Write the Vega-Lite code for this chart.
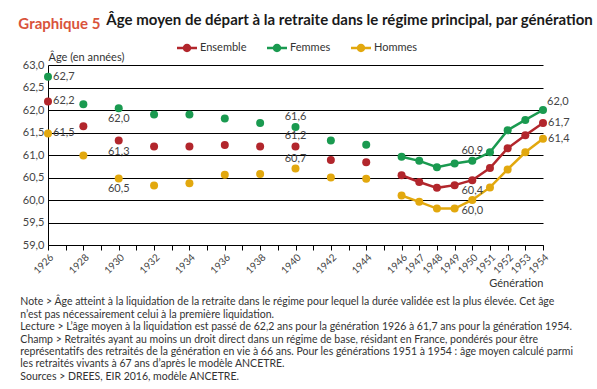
{
  "$schema": "https://vega.github.io/schema/vega-lite/v6.json",
  "padding": {"left": 18, "top": 13, "right": 5, "bottom": 0},
  "background": "white",
  "config": {
    "locale": {"number": {"decimal": ",", "thousands": " ", "grouping": [3], "currency": ["", " €"]}},
    "font": "Lato",
    "view": {"stroke": null},
    "title": {"lineHeight": 12.4},
    "axis": {"labelFont": "Lato", "titleFont": "Lato", "labelColor": "#444444", "titleColor": "#333333"}
  },
  "title": {
    "text": "Graphique 5",
    "anchor": "start",
    "color": "#d9533b",
    "fontSize": 15,
    "fontWeight": "bold",
    "font": "Lato",
    "offset": 0,
    "dx": -2,
    "dy": 19
  },
  "datasets": {
    "ages": [
      {"gen": 1926, "serie": "Femmes", "age": 62.74},
      {"gen": 1928, "serie": "Femmes", "age": 62.13},
      {"gen": 1930, "serie": "Femmes", "age": 62.04},
      {"gen": 1932, "serie": "Femmes", "age": 61.90},
      {"gen": 1934, "serie": "Femmes", "age": 61.90},
      {"gen": 1936, "serie": "Femmes", "age": 61.81},
      {"gen": 1938, "serie": "Femmes", "age": 61.71},
      {"gen": 1940, "serie": "Femmes", "age": 61.62},
      {"gen": 1942, "serie": "Femmes", "age": 61.32},
      {"gen": 1944, "serie": "Femmes", "age": 61.23},
      {"gen": 1946, "serie": "Femmes", "age": 60.96},
      {"gen": 1947, "serie": "Femmes", "age": 60.87},
      {"gen": 1948, "serie": "Femmes", "age": 60.73},
      {"gen": 1949, "serie": "Femmes", "age": 60.81},
      {"gen": 1950, "serie": "Femmes", "age": 60.87},
      {"gen": 1951, "serie": "Femmes", "age": 61.06},
      {"gen": 1952, "serie": "Femmes", "age": 61.55},
      {"gen": 1953, "serie": "Femmes", "age": 61.78},
      {"gen": 1954, "serie": "Femmes", "age": 62.0},
      {"gen": 1926, "serie": "Ensemble", "age": 62.19},
      {"gen": 1928, "serie": "Ensemble", "age": 61.64},
      {"gen": 1930, "serie": "Ensemble", "age": 61.32},
      {"gen": 1932, "serie": "Ensemble", "age": 61.19},
      {"gen": 1934, "serie": "Ensemble", "age": 61.19},
      {"gen": 1936, "serie": "Ensemble", "age": 61.22},
      {"gen": 1938, "serie": "Ensemble", "age": 61.19},
      {"gen": 1940, "serie": "Ensemble", "age": 61.19},
      {"gen": 1942, "serie": "Ensemble", "age": 60.89},
      {"gen": 1944, "serie": "Ensemble", "age": 60.84},
      {"gen": 1946, "serie": "Ensemble", "age": 60.55},
      {"gen": 1947, "serie": "Ensemble", "age": 60.40},
      {"gen": 1948, "serie": "Ensemble", "age": 60.27},
      {"gen": 1949, "serie": "Ensemble", "age": 60.33},
      {"gen": 1950, "serie": "Ensemble", "age": 60.44},
      {"gen": 1951, "serie": "Ensemble", "age": 60.71},
      {"gen": 1952, "serie": "Ensemble", "age": 61.15},
      {"gen": 1953, "serie": "Ensemble", "age": 61.44},
      {"gen": 1954, "serie": "Ensemble", "age": 61.71},
      {"gen": 1926, "serie": "Hommes", "age": 61.48},
      {"gen": 1928, "serie": "Hommes", "age": 60.99},
      {"gen": 1930, "serie": "Hommes", "age": 60.48},
      {"gen": 1932, "serie": "Hommes", "age": 60.32},
      {"gen": 1934, "serie": "Hommes", "age": 60.37},
      {"gen": 1936, "serie": "Hommes", "age": 60.56},
      {"gen": 1938, "serie": "Hommes", "age": 60.58},
      {"gen": 1940, "serie": "Hommes", "age": 60.70},
      {"gen": 1942, "serie": "Hommes", "age": 60.50},
      {"gen": 1944, "serie": "Hommes", "age": 60.47},
      {"gen": 1946, "serie": "Hommes", "age": 60.10},
      {"gen": 1947, "serie": "Hommes", "age": 59.96},
      {"gen": 1948, "serie": "Hommes", "age": 59.81},
      {"gen": 1949, "serie": "Hommes", "age": 59.81},
      {"gen": 1950, "serie": "Hommes", "age": 60.00},
      {"gen": 1951, "serie": "Hommes", "age": 60.28},
      {"gen": 1952, "serie": "Hommes", "age": 60.68},
      {"gen": 1953, "serie": "Hommes", "age": 61.06},
      {"gen": 1954, "serie": "Hommes", "age": 61.36}
    ]
  },
  "vconcat": [
    {
      "title": {
        "text": "Âge moyen de départ à la retraite dans le régime principal, par génération",
        "anchor": "start",
        "dx": 86,
        "fontSize": 15,
        "fontWeight": "bold",
        "font": "Lato",
        "color": "#1a1a1a",
        "offset": 23
      },
      "vconcat": [
        {
          "width": 495,
          "height": 180,
          "title": {
            "text": [
              "Note > Âge atteint à la liquidation de la retraite dans le régime pour lequel la durée validée est la plus élevée. Cet âge",
              "n’est pas nécessairement celui à la première liquidation.",
              "Lecture > L’âge moyen à la liquidation est passé de 62,2 ans pour la génération 1926 à 61,7 ans pour la génération 1954.",
              "Champ > Retraités ayant au moins un droit direct dans un régime de base, résidant en France, pondérés pour être",
              "représentatifs des retraités de la génération en vie à 66 ans. Pour les générations 1951 à 1954 : âge moyen calculé parmi",
              "les retraités vivants à 67 ans d’après le modèle ANCETRE.",
              "Sources > DREES, EIR 2016, modèle ANCETRE."
            ],
            "orient": "bottom",
            "anchor": "start",
            "fontSize": 10.5,
            "fontWeight": "normal",
            "font": "Lato",
            "lineHeight": 12.4,
            "color": "#333333",
            "offset": 9,
            "dx": -2
          },
          "data": {"name": "ages"},
          "encoding": {
            "x": {
              "field": "gen",
              "type": "quantitative",
              "scale": {"domain": [1926, 1954], "nice": false, "zero": false},
              "axis": {
                "values": [1926,1927,1928,1929,1930,1931,1932,1933,1934,1935,1936,1937,1938,1939,1940,1941,1942,1943,1944,1945,1946,1947,1948,1949,1950,1951,1952,1953,1954],
                "format": "d",
                "labelExpr": "datum.value < 1946 && datum.value % 2 == 1 ? '' : datum.label",
                "labelAngle": -45,
                "labelFontSize": 10,
                "labelOverlap": false,
                "labelPadding": 2,
                "grid": false,
                "domainColor": "#000000",
                "tickColor": "#000000",
                "tickSize": 5,
                "title": "Génération",
                "titleAnchor": "end",
                "titleFontWeight": "normal",
                "titleFontSize": 11,
                "titlePadding": 2
              }
            },
            "y": {
              "field": "age",
              "type": "quantitative",
              "scale": {"domain": [59, 63], "nice": false, "zero": false},
              "axis": {
                "values": [59, 59.5, 60, 60.5, 61, 61.5, 62, 62.5, 63],
                "format": ".1f",
                "labelFontSize": 11,
                "labelPadding": 4,
                "ticks": false,
                "grid": true,
                "gridColor": "#000000",
                "gridWidth": 1,
                "domainColor": "#000000",
                "title": "Âge (en années)",
                "titleAngle": 0,
                "titleAlign": "left",
                "titleBaseline": "bottom",
                "titleX": 0,
                "titleY": -3,
                "titleFontWeight": "normal",
                "titleFontSize": 11
              }
            },
            "color": {
              "field": "serie",
              "type": "nominal",
              "scale": {"domain": ["Ensemble", "Femmes", "Hommes"], "range": ["#b2262c", "#1a9a50", "#e2a80e"]},
              "legend": {
                "title": null,
                "orient": "none",
                "direction": "horizontal",
                "legendX": 129,
                "legendY": -27,
                "symbolType": "M-1,-0.12H1V0.12H-1Z M-0.42,0A0.42,0.42 0 1,1 0.42,0A0.42,0.42 0 1,1 -0.42,0Z",
                "symbolSize": 400,
                "symbolStrokeWidth": 0,
                "symbolOpacity": 1,
                "labelFontSize": 11,
                "labelColor": "#333333",
                "labelFont": "Lato",
                "labelOffset": 3,
                "columnPadding": 20
              }
            }
          },
          "layer": [
            {
              "transform": [{"filter": "datum.gen >= 1946"}],
              "mark": {"type": "line", "strokeWidth": 2.5}
            },
            {
              "mark": {"type": "point", "filled": true, "opacity": 1, "size": 64, "shape": "circle"}
            },
            {
              "transform": [{"filter": "datum.gen == 1926 || (datum.gen == 1954 && datum.serie != 'Femmes')"}],
              "mark": {"type": "text", "align": "left", "dx": 5, "fontSize": 11},
              "encoding": {"text": {"field": "age", "type": "quantitative", "format": ".1f"}, "color": {"value": "#444444"}}
            },
            {
              "transform": [{"filter": "datum.gen == 1954 && datum.serie == 'Femmes'"}],
              "mark": {"type": "text", "align": "left", "dx": 4, "dy": -8, "fontSize": 11},
              "encoding": {"text": {"field": "age", "type": "quantitative", "format": ".1f"}, "color": {"value": "#444444"}}
            },
            {
              "transform": [{"filter": "datum.gen == 1940 || (datum.gen == 1950 && datum.serie == 'Femmes')"}],
              "mark": {"type": "text", "align": "center", "dy": -10, "fontSize": 11},
              "encoding": {"text": {"field": "age", "type": "quantitative", "format": ".1f"}, "color": {"value": "#444444"}}
            },
            {
              "transform": [{"filter": "datum.gen == 1930 || (datum.gen == 1950 && datum.serie != 'Femmes')"}],
              "mark": {"type": "text", "align": "center", "dy": 11, "fontSize": 11},
              "encoding": {"text": {"field": "age", "type": "quantitative", "format": ".1f"}, "color": {"value": "#444444"}}
            }
          ]
        }
      ]
    }
  ]
}
